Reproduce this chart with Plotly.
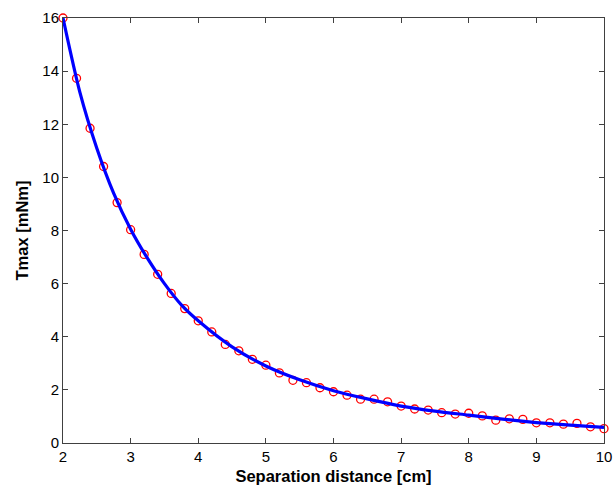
import plotly.graph_objects as go

# measured data (red circles)
x_data = [2.0, 2.2, 2.4, 2.6, 2.8, 3.0, 3.2, 3.4, 3.6, 3.8, 4.0, 4.2, 4.4, 4.6, 4.8,
          5.0, 5.2, 5.4, 5.6, 5.8, 6.0, 6.2, 6.4, 6.6, 6.8, 7.0, 7.2, 7.4, 7.6, 7.8,
          8.0, 8.2, 8.4, 8.6, 8.8, 9.0, 9.2, 9.4, 9.6, 9.8, 10.0]
t_data = [16.0, 13.73, 11.85, 10.41, 9.05, 8.03, 7.1, 6.35, 5.63, 5.06, 4.6, 4.18,
          3.71, 3.47, 3.15, 2.93, 2.64, 2.36, 2.27, 2.08, 1.93, 1.8, 1.65, 1.65,
          1.55, 1.39, 1.28, 1.24, 1.14, 1.09, 1.12, 1.02, 0.86, 0.91, 0.89, 0.76,
          0.76, 0.71, 0.74, 0.61, 0.54]

# fitted curve (blue line)
x_fit = [2.0, 2.25, 2.5, 2.75, 3.0, 3.25, 3.5, 3.75, 4.0, 4.5, 5.0, 5.5, 6.0, 6.5,
         7.0, 7.5, 8.0, 8.5, 9.0, 9.5, 10.0]
t_fit = [16.0, 13.2, 11.1, 9.4, 8.05, 6.95, 6.0, 5.2, 4.6, 3.62, 2.9, 2.38, 1.97,
         1.66, 1.39, 1.2, 1.05, 0.9, 0.77, 0.67, 0.59]

x_ticks = [2, 3, 4, 5, 6, 7, 8, 9, 10]
y_ticks = [0, 2, 4, 6, 8, 10, 12, 14, 16]

FONT = "Liberation Sans, Arial, Helvetica, sans-serif"

fig = go.Figure()
fig.add_trace(go.Scatter(
    x=x_data, y=t_data, mode="markers",
    marker=dict(symbol="circle-open", size=8, color="#ff0000", line=dict(width=1.3, color="#ff0000")),
    showlegend=False, cliponaxis=False))
fig.add_trace(go.Scatter(
    x=x_fit, y=t_fit, mode="lines", line=dict(color="#0000ff", width=3.2, shape="spline", smoothing=0.8),
    showlegend=False, cliponaxis=False))

axis_common = dict(
    showline=True, linecolor="#404040", linewidth=1, mirror="ticks",
    ticks="inside", ticklen=5, tickcolor="#404040", showgrid=False, zeroline=False,
    automargin=False,
    tickfont=dict(family=FONT, size=15, color="#000000"),
)
fig.update_xaxes(range=[2, 10], tickvals=x_ticks, ticktext=[str(v) for v in x_ticks],
                 title=dict(text="<b>Separation distance [cm]</b>", standoff=6,
                            font=dict(family=FONT, size=16.5, color="#000000")),
                 **axis_common)
fig.update_yaxes(range=[0, 16], tickvals=y_ticks, ticktext=[str(v) for v in y_ticks],
                 title=dict(text="<b>Tmax [mNm]</b>", standoff=9,
                            font=dict(family=FONT, size=16.5, color="#000000")),
                 **axis_common)
fig.update_layout(
    width=614, height=488,
    margin=dict(l=63, r=10, t=18, b=45),
    paper_bgcolor="white", plot_bgcolor="white",
)
fig.write_html(
    "out.html",
    config={"displayModeBar": False},
    post_script="document.body.style.margin='0';document.body.style.overflow='hidden';",
)
